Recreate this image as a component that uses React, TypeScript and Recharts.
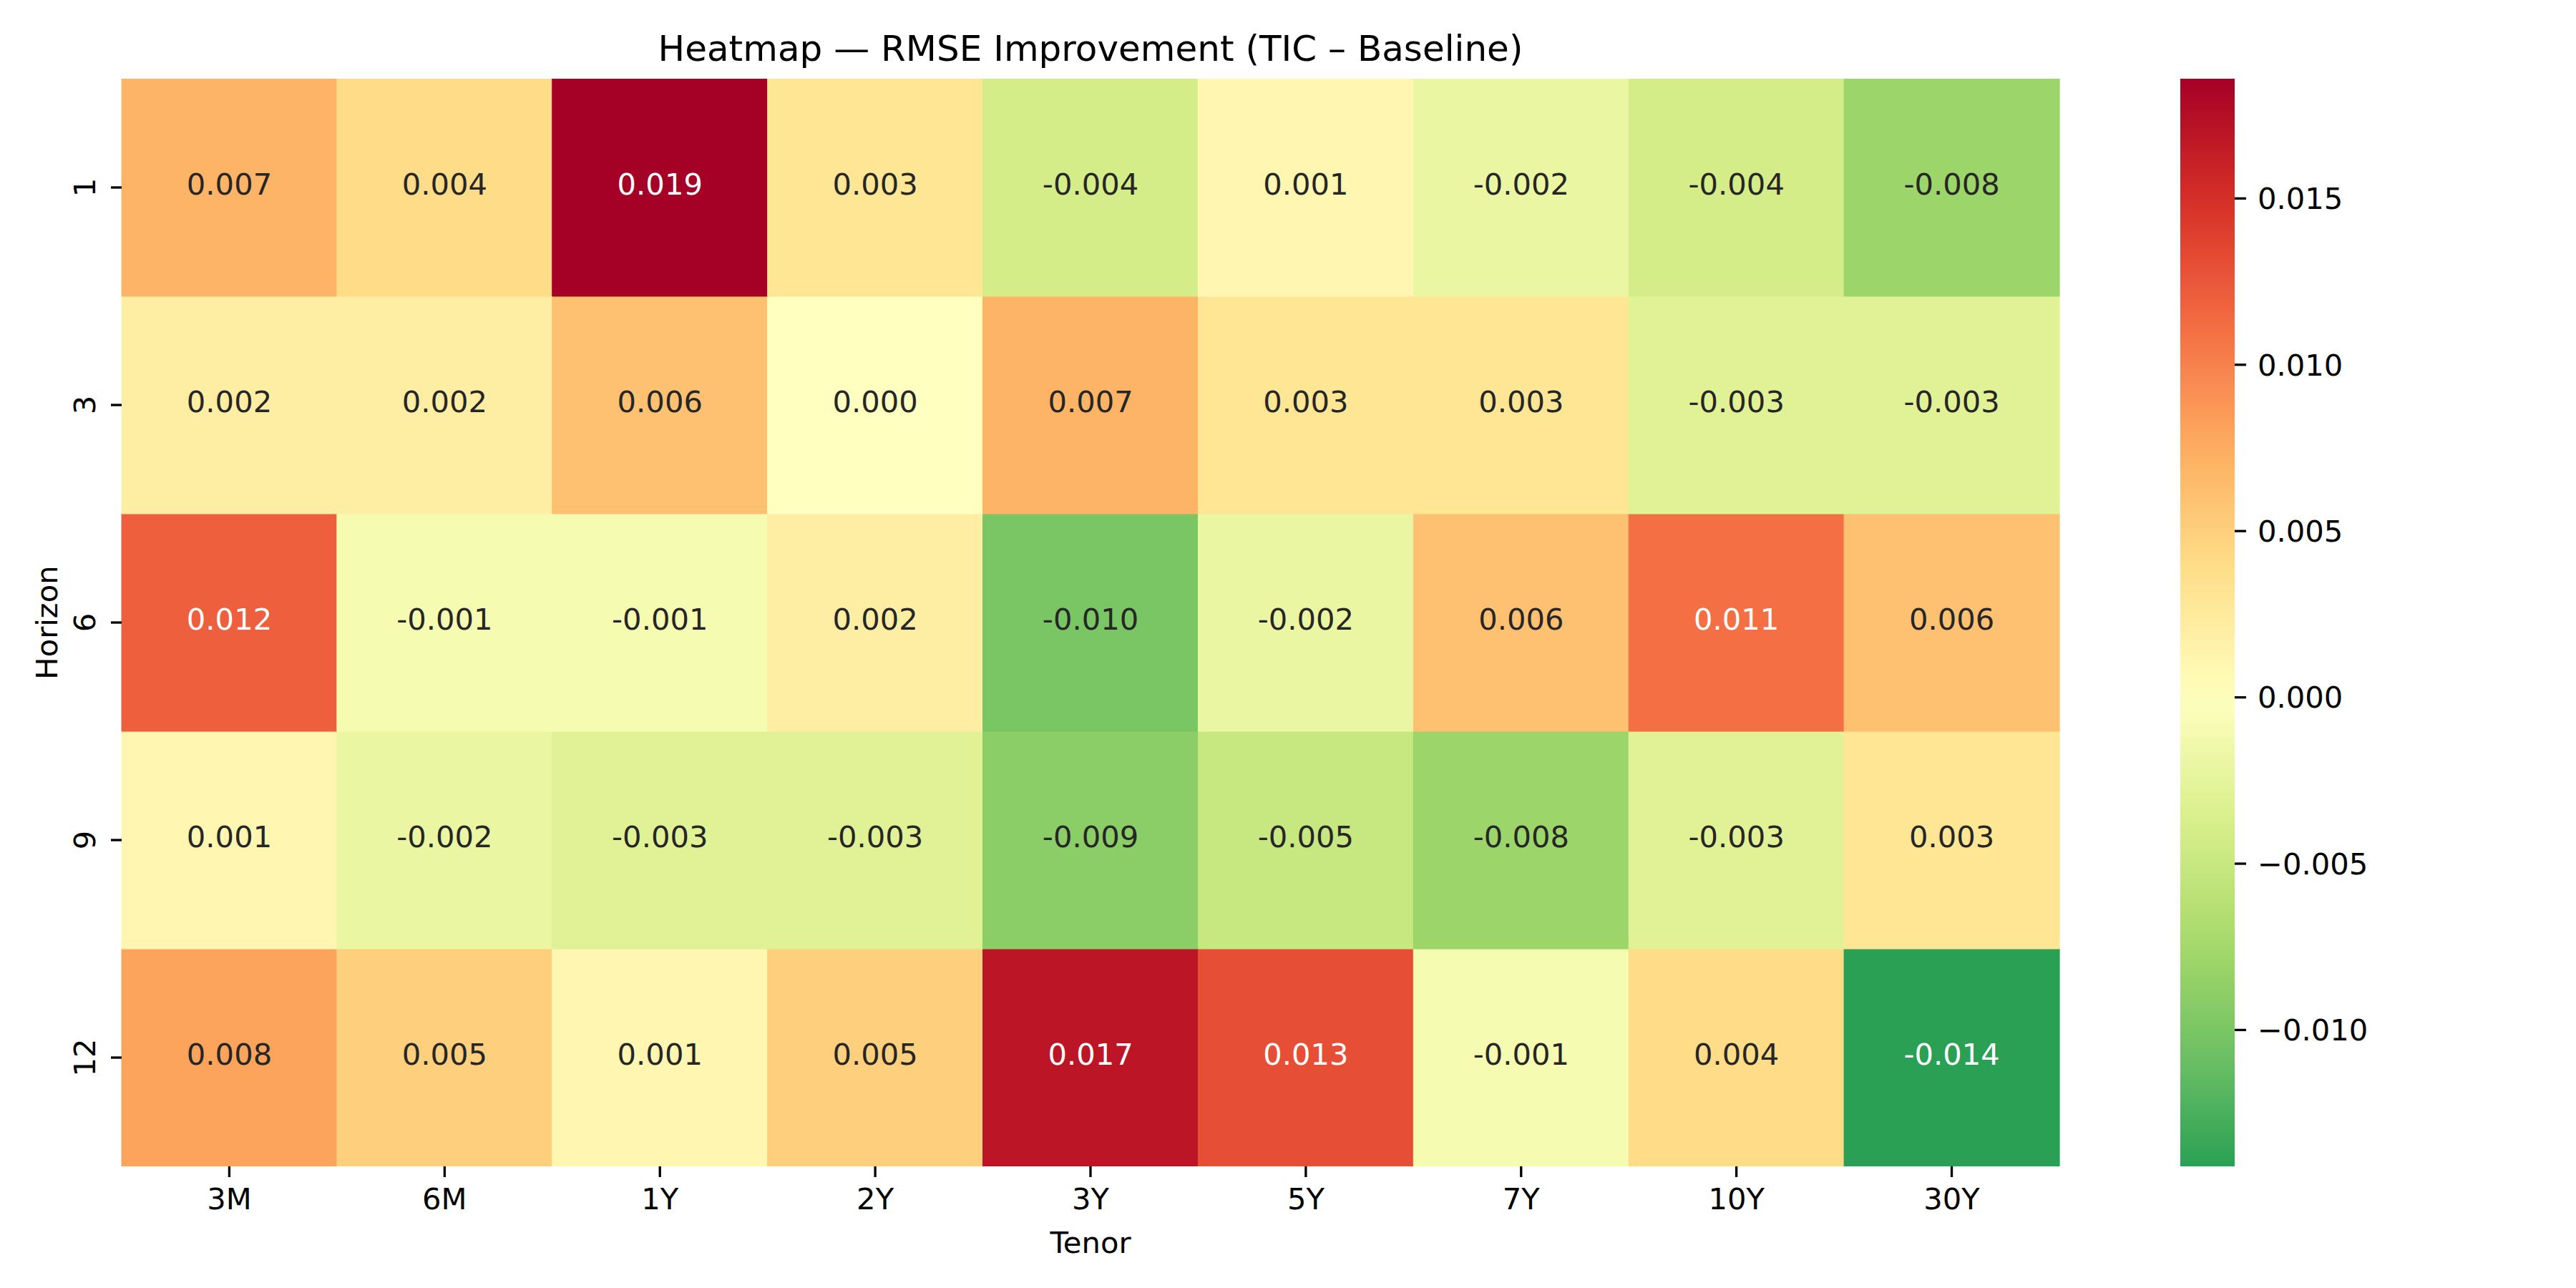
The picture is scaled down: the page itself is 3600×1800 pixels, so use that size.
import React from 'react';
import { BarChart, Bar, XAxis, YAxis, Cell, LabelList } from 'recharts';

// categories
const tenors = ['3M', '6M', '1Y', '2Y', '3Y', '5Y', '7Y', '10Y', '30Y'];
const horizons = ['1', '3', '6', '9', '12'];

// RMSE improvement per horizon row (TIC - Baseline), one value per tenor
const h1 = [0.007, 0.004, 0.0186, 0.003, -0.004, 0.001, -0.002, -0.004, -0.008];
const h3 = [0.002, 0.002, 0.006, 0.0, 0.007, 0.003, 0.003, -0.003, -0.003];
const h6 = [0.012, -0.001, -0.001, 0.002, -0.01, -0.002, 0.006, 0.011, 0.006];
const h9 = [0.001, -0.002, -0.003, -0.003, -0.009, -0.005, -0.008, -0.003, 0.003];
const h12 = [0.008, 0.005, 0.001, 0.005, 0.017, 0.013, -0.001, 0.004, -0.0141];
const grid = [h1, h3, h6, h9, h12];

const colorbarTicks = [-0.01, -0.005, 0, 0.005, 0.01, 0.015];

// RdYlGn anchor colours (matplotlib), used reversed
const rdylgn = [
  '#a50026', '#d73027', '#f46d43', '#fdae61', '#fee08b', '#ffffbf',
  '#d9ef8b', '#a6d96a', '#66bd63', '#1a9850', '#006837',
];

const FONT = '"DejaVu Sans", Verdana, sans-serif';
const FS = 41.7;

const anchors = rdylgn.map((h) => [1, 3, 5].map((i) => parseInt(h.slice(i, i + 2), 16)));

function cmapR(t: number) {
  const s = Math.min(1, Math.max(0, 1 - t)) * 10;
  const i = Math.min(9, Math.floor(s));
  const f = s - i;
  const a = anchors[i];
  const b = anchors[i + 1];
  return a.map((c, k) => c + (b[k] - c) * f);
}

const allVals = grid.flat();
const vmin = Math.min(...allVals);
const vmax = Math.max(...allVals);
const vrange = Math.max(vmax, -vmin); // centred at 0

const rgbOf = (v: number) => cmapR((v + vrange) / (2 * vrange));
const colorOf = (v: number) => {
  const [r, g, b] = rgbOf(v);
  return `rgb(${Math.round(r)},${Math.round(g)},${Math.round(b)})`;
};

function textColor(v: number) {
  const lin = rgbOf(v).map((c) => {
    const x = c / 255;
    return x <= 0.03928 ? x / 12.92 : Math.pow((x + 0.055) / 1.055, 2.4);
  });
  const lum = 0.2126 * lin[0] + 0.7152 * lin[1] + 0.0722 * lin[2];
  return lum > 0.408 ? '#262626' : '#ffffff';
}

const rows = tenors.map((tenor, j) => {
  const row: Record<string, string | number> = { tenor };
  horizons.forEach((_, i) => {
    row[`c${i}`] = 1;
    row[`v${i}`] = grid[i][j];
  });
  return row;
});

const colorbarData = [{ name: 'cb', range: [vmin, vmax] }];
const gradStops = Array.from({ length: 41 }, (_, k) => k / 40);

const CellText = (props: any) => {
  const { x, y, width, height, value } = props;
  return (
    <text
      x={x + width / 2}
      y={y + height / 2}
      dy={FS * 0.245}
      textAnchor="middle"
      fill={textColor(value)}
      fontSize={FS}
      fontFamily={FONT}
    >
      {Number(value).toFixed(3)}
    </text>
  );
};

const HorizonTick = (props: any) => {
  const { x, y, payload } = props;
  const label = horizons[horizons.length - 1 - Math.floor(payload.value)];
  return (
    <text
      x={x}
      y={y}
      transform={`rotate(-90, ${x}, ${y})`}
      textAnchor="middle"
      fill="#000"
      fontSize={FS}
      fontFamily={FONT}
    >
      {label}
    </text>
  );
};

const tickLine = { stroke: '#000', strokeWidth: 3.3 };
const tickFont = { fill: '#000', fontSize: FS, fontFamily: FONT };

export default function App() {
  // stacked from the bottom: last horizon first
  const order = horizons.map((_, i) => i).reverse();
  return (
    <div style={{ position: 'absolute', left: 0, top: 0, width: 3600, height: 1800, background: '#fff' }}>
      <svg width={3600} height={1800} style={{ position: 'absolute', left: 0, top: 0 }}>
        <text x={1524} y={85} textAnchor="middle" fontSize={50} fontFamily={FONT} fill="#000">
          Heatmap — RMSE Improvement (TIC – Baseline)
        </text>
        <text x={1524} y={1751} textAnchor="middle" fontSize={FS} fontFamily={FONT} fill="#000">
          Tenor
        </text>
        <text
          x={80}
          y={870}
          transform="rotate(-90, 80, 870)"
          textAnchor="middle"
          fontSize={FS}
          fontFamily={FONT}
          fill="#000"
        >
          Horizon
        </text>
      </svg>

      <div style={{ position: 'absolute', left: 0, top: 0 }}>
        <BarChart
          width={3600}
          height={1800}
          data={rows}
          margin={{ top: 110, right: 722, bottom: 0, left: 0 }}
          barCategoryGap={0}
          barGap={0}
        >
          <XAxis
            dataKey="tenor"
            height={170}
            axisLine={false}
            tickLine={tickLine}
            tickSize={15}
            tickMargin={15}
            tick={tickFont}
            interval={0}
          />
          <YAxis
            type="number"
            domain={[0, horizons.length]}
            allowDataOverflow
            ticks={[0.5, 1.5, 2.5, 3.5, 4.5]}
            width={170}
            axisLine={false}
            tickLine={tickLine}
            tickSize={15}
            tickMargin={22}
            tick={<HorizonTick />}
          />
          {order.map((i) => (
            <Bar key={i} dataKey={`c${i}`} stackId="grid" isAnimationActive={false}>
              {rows.map((_, j) => (
                <Cell key={j} fill={colorOf(grid[i][j])} stroke={colorOf(grid[i][j])} strokeWidth={1} />
              ))}
              <LabelList dataKey={`v${i}`} content={<CellText />} />
            </Bar>
          ))}
        </BarChart>
      </div>

      <div style={{ position: 'absolute', left: 3047, top: 0 }}>
        <BarChart
          width={400}
          height={1800}
          data={colorbarData}
          margin={{ top: 110, right: 74, bottom: 170, left: 0 }}
          barCategoryGap={0}
        >
          <defs>
            <linearGradient id="cbGrad" x1="0" y1="1" x2="0" y2="0">
              {gradStops.map((s) => (
                <stop key={s} offset={s} stopColor={colorOf(vmin + s * (vmax - vmin))} />
              ))}
            </linearGradient>
          </defs>
          <XAxis dataKey="name" hide />
          <YAxis
            orientation="right"
            type="number"
            domain={[vmin, vmax]}
            allowDataOverflow
            ticks={colorbarTicks}
            width={250}
            axisLine={false}
            tickLine={tickLine}
            tickSize={16}
            tickMargin={16}
            tick={tickFont}
            tickFormatter={(v: number) => (v < 0 ? '\u2212' : '') + Math.abs(v).toFixed(3)}
          />
          <Bar dataKey="range" fill="url(#cbGrad)" isAnimationActive={false} />
        </BarChart>
      </div>
    </div>
  );
}
